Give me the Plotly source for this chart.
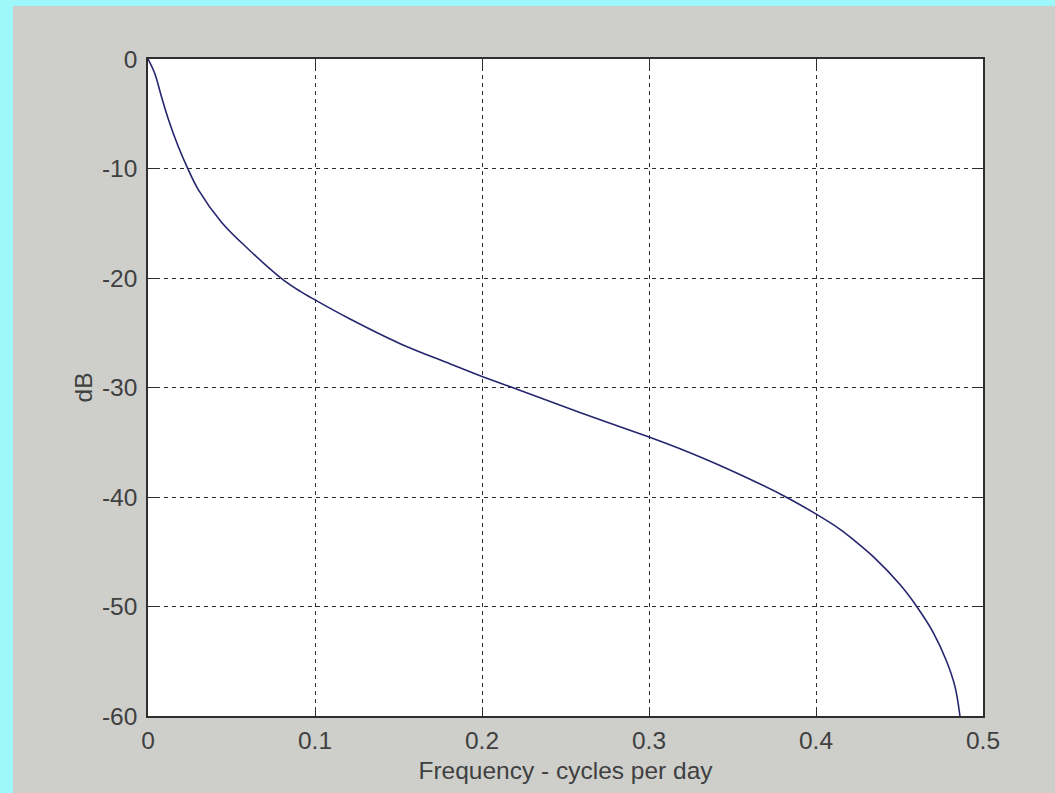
import plotly.graph_objects as go

# Frequency response
freq = [0.0, 0.004, 0.008, 0.012, 0.018, 0.0235, 0.030, 0.044, 0.060, 0.080,
        0.091, 0.100, 0.121, 0.151, 0.181, 0.200, 0.219, 0.259, 0.2996, 0.3186,
        0.3465, 0.3814, 0.3994, 0.4144, 0.4224, 0.4343, 0.4503, 0.4603, 0.4703,
        0.4782, 0.4832, 0.4862]
db = [0.0, -1.3, -3.4, -5.4, -7.95, -9.9, -11.9, -14.9, -17.35, -20.05,
      -21.2, -22.0, -23.75, -26.0, -27.85, -29.0, -30.05, -32.3, -34.5, -35.6,
      -37.4, -39.95, -41.5, -42.95, -43.9, -45.45, -48.0, -50.0, -52.4,
      -55.0, -57.3, -60.0]

x_ticks = [0, 0.1, 0.2, 0.3, 0.4, 0.5]
x_tick_labels = ["0", "0.1", "0.2", "0.3", "0.4", "0.5"]
y_ticks = [0, -10, -20, -30, -40, -50, -60]
y_tick_labels = ["0", "-10", "-20", "-30", "-40", "-50", "-60"]

W, H = 1055, 793
L, R, T, B = 148, 72, 59, 77
pw, ph = W - L - R, H - T - B

def px_to_paper_x(px):
    return (px - L) / pw

def py_to_paper_y(py):
    return (H - B - py) / ph

gray = "#cecfcb"
cyan = "#9ef7fb"
axc = "#2e2e2e"
fnt = dict(family="Liberation Sans, Arial, sans-serif", size=24.5, color="#404040")

fig = go.Figure()
fig.add_trace(go.Scatter(x=freq, y=db, mode="lines",
                         line=dict(color="#26266e", width=1.6, shape="spline", smoothing=1.0),
                         showlegend=False))

fig.update_layout(
    width=W, height=H,
    margin=dict(l=L, r=R, t=T, b=B, autoexpand=False),
    paper_bgcolor=gray, plot_bgcolor="white",
    font=fnt,
    shapes=[
        dict(type="rect", xref="paper", yref="paper",
             x0=px_to_paper_x(-20), x1=px_to_paper_x(13),
             y0=py_to_paper_y(820), y1=py_to_paper_y(-20),
             fillcolor=cyan, line=dict(width=0), layer="below"),
        dict(type="rect", xref="paper", yref="paper",
             x0=px_to_paper_x(-20), x1=px_to_paper_x(1080),
             y0=py_to_paper_y(6), y1=py_to_paper_y(-20),
             fillcolor=cyan, line=dict(width=0), layer="below"),
    ],
)

fig.update_xaxes(
    range=[0, 0.5], tickvals=x_ticks, ticktext=x_tick_labels,
    showline=True, linecolor=axc, linewidth=1.5, mirror="ticks",
    ticks="inside", ticklen=8, tickcolor=axc, tickwidth=1,
    showgrid=True, gridcolor=axc, gridwidth=1, griddash="4px,4px",
    zeroline=False, ticklabelstandoff=2,
    title=dict(text="Frequency - cycles per day", standoff=9, font=fnt),
)
fig.update_yaxes(
    range=[-60, 0], tickvals=y_ticks, ticktext=y_tick_labels,
    showline=True, linecolor=axc, linewidth=1.5, mirror="ticks",
    ticks="inside", ticklen=8, tickcolor=axc, tickwidth=1,
    showgrid=True, gridcolor=axc, gridwidth=1, griddash="4px,4px",
    zeroline=False, ticklabelstandoff=4,
    title=dict(text="dB", standoff=2, font=fnt),
)

fig.write_html(
    "out.html",
    config={"displayModeBar": False},
    post_script="document.body.style.margin='0';document.body.style.background='#9ef7fb';document.body.style.overflow='hidden';",
)
